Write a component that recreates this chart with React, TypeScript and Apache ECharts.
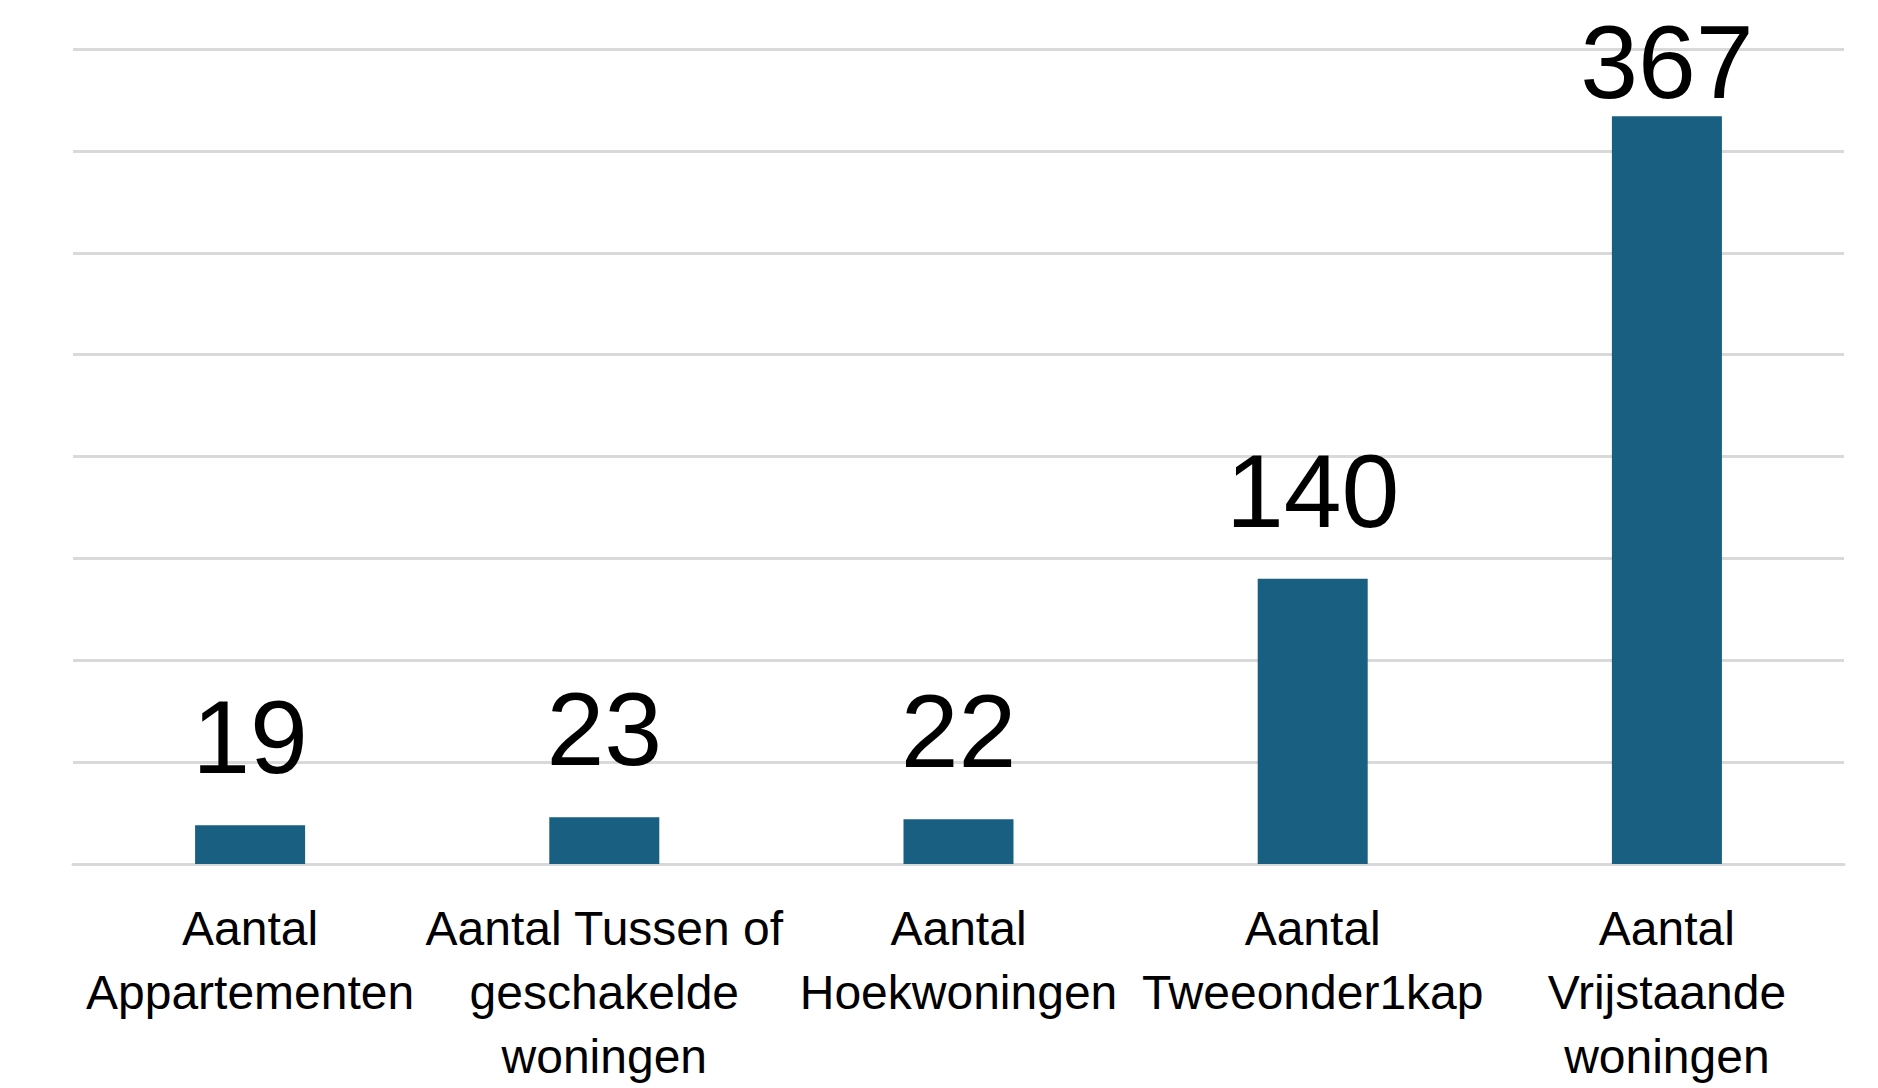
import React, { useEffect, useRef } from "react";
import * as echarts from "echarts";

const categories = [
  "Aantal\nAppartementen",
  "Aantal Tussen of\ngeschakelde\nwoningen",
  "Aantal\nHoekwoningen",
  "Aantal\nTweeonder1kap",
  "Aantal\nVrijstaande\nwoningen",
];
const values = [19, 23, 22, 140, 367];
const yMin = 0;
const yMax = 400;
const yInterval = 50;

export default function App() {
  const ref = useRef<HTMLDivElement>(null);
  useEffect(() => {
    if (!ref.current) return;
    const chart = echarts.init(ref.current, undefined, { renderer: "svg" });
    const data = values.map((v) =>
      v >= 300 ? { value: v, label: { distance: 2 } } : { value: v }
    );
    chart.setOption({
      animation: false,
      backgroundColor: "#ffffff",
      grid: { left: 73, right: 34, top: 49, bottom: 221, containLabel: false },
      xAxis: {
        type: "category",
        data: categories,
        axisLine: { show: true, lineStyle: { color: "#d9d9d9", width: 3 } },
        axisTick: { show: false },
        axisLabel: {
          interval: 0,
          margin: 32,
          color: "#000000",
          fontFamily: "'Liberation Sans', Arial, sans-serif",
          fontSize: 48,
          lineHeight: 64,
          align: "center",
        },
      },
      yAxis: {
        type: "value",
        min: yMin,
        max: yMax,
        interval: yInterval,
        axisLabel: { show: false },
        axisLine: { show: false },
        axisTick: { show: false },
        splitLine: { show: true, lineStyle: { color: "#d9d9d9", width: 3 } },
      },
      series: [
        {
          type: "bar",
          data,
          barWidth: 110,
          itemStyle: { color: "#185f81" },
          label: {
            show: true,
            position: "top",
            distance: 36,
            color: "#000000",
            fontFamily: "'Liberation Sans', Arial, sans-serif",
            fontSize: 104,
          },
        },
      ],
    });
    return () => chart.dispose();
  }, []);
  return (
    <div
      ref={ref}
      style={{ position: "fixed", left: 0, top: 0, width: 1878, height: 1088 }}
    />
  );
}
